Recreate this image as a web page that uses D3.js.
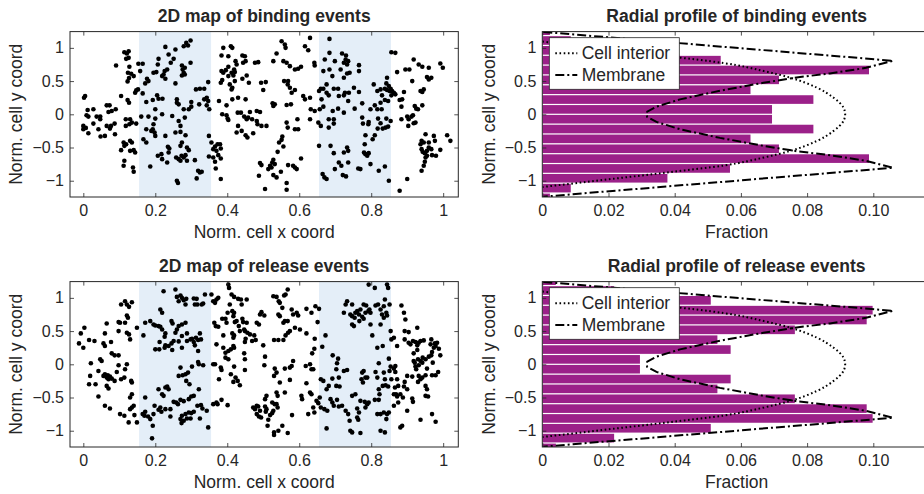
<!DOCTYPE html>
<html>
<head>
<meta charset="utf-8">
<script src="https://cdn.jsdelivr.net/npm/d3@7"></script>
<style>
  body { margin: 0; background: #fff; }
  svg text { font-family: "Liberation Sans", Arial, sans-serif; fill: #262626; }
</style>
</head>
<body>
<script>
// ---- data ----
var xTicks = [0, 0.2, 0.4, 0.6, 0.8, 1];
var yTicks = [-1, -0.5, 0, 0.5, 1];
var fracTicks = [0, 0.02, 0.04, 0.06, 0.08, 0.10];
var membraneBands = [[0.155, 0.355], [0.655, 0.855]];

var bindingEvents = [
[0.002,0.25],[0.005,0.275],[0.012,0.065],[0.028,0.075],[0.009,-0.015],[0.014,-0.035],[0.000,-0.175],[0.007,-0.205],[0.000,-0.225],[0.014,-0.285],[0.028,-0.14],[0.042,-0.225],[0.048,-0.335],[0.060,-0.325],[0.037,-0.035],[0.047,-0.035],[0.047,-0.075],[0.065,0.135],[0.073,0.135],[0.079,0.05],[0.090,0.075],[0.070,0.035],[0.065,-0.175],[0.077,-0.175],[0.074,-0.215],[0.087,-0.14],[0.088,-0.30],[0.105,0.275],[0.091,0.735],[0.114,0.935],[0.126,0.95],[0.121,0.915],[0.119,0.835],[0.126,0.85],[0.128,0.715],[0.124,0.625],[0.133,0.61],[0.123,0.495],[0.127,0.545],[0.140,0.575],[0.123,0.215],[0.127,0.175],[0.118,-0.075],[0.130,-0.075],[0.118,-0.175],[0.128,-0.15],[0.135,-0.125],[0.147,-0.14],[0.112,-0.425],[0.119,-0.45],[0.114,-0.475],[0.130,-0.40],[0.135,-0.425],[0.105,-0.54],[0.130,-0.55],[0.140,-0.54],[0.144,-0.575],[0.114,-0.70],[0.112,-0.775],[0.138,-0.80],[0.140,-0.865],[0.144,0.325],[0.147,0.36],[0.152,0.375],[0.153,0.76],[0.165,0.76],[0.158,0.65],[0.177,0.535],[0.181,0.50],[0.172,0.465],[0.165,0.315],[0.175,0.185],[0.161,-0.035],[0.181,-0.035],[0.175,-0.225],[0.189,-0.25],[0.193,-0.225],[0.198,-0.275],[0.200,-0.325],[0.167,-0.375],[0.175,-0.425],[0.186,-0.785],[0.195,-0.15],[0.200,-0.065],[0.193,0.215],[0.205,0.285],[0.209,0.235],[0.200,0.075],[0.195,0.625],[0.203,0.635],[0.207,0.75],[0.209,0.835],[0.219,0.575],[0.223,0.60],[0.228,0.535],[0.226,0.65],[0.233,0.675],[0.228,1.015],[0.237,0.90],[0.243,0.775],[0.220,0.235],[0.219,0.0],[0.207,-0.625],[0.219,-0.675],[0.217,-0.60],[0.233,-0.725],[0.237,-0.575],[0.228,-0.325],[0.235,-0.49],[0.239,-0.515],[0.251,0.835],[0.256,0.975],[0.256,0.465],[0.256,-0.275],[0.270,-0.265],[0.260,0.225],[0.260,0.175],[0.265,0.15],[0.247,-0.025],[0.258,-0.65],[0.265,-0.675],[0.270,-0.70],[0.273,-0.625],[0.279,-0.65],[0.260,-1.0],[0.263,-1.035],[0.265,-0.10],[0.270,-0.175],[0.270,-0.475],[0.274,-0.425],[0.274,0.735],[0.276,0.675],[0.282,0.70],[0.279,0.625],[0.274,0.585],[0.282,0.60],[0.279,1.025],[0.286,1.075],[0.291,1.035],[0.298,1.11],[0.298,0.775],[0.279,0.075],[0.293,0.075],[0.300,0.115],[0.282,-0.05],[0.284,-0.315],[0.288,-0.50],[0.293,-0.54],[0.284,-0.615],[0.288,-0.70],[0.300,0.185],[0.310,-0.69],[0.313,0.375],[0.319,-0.85],
[0.324,0.385],[0.336,0.385],[0.347,0.485],[0.322,0.15],[0.336,0.225],[0.343,0.25],[0.347,0.20],[0.343,0.135],[0.350,0.075],[0.324,-0.875],[0.329,-0.865],[0.315,-0.965],[0.349,-0.325],[0.356,-0.425],[0.366,-0.485],[0.373,-0.45],[0.380,-0.45],[0.382,-0.515],[0.370,-0.55],[0.375,-0.615],[0.361,-0.525],[0.349,-0.635],[0.361,-0.65],[0.366,-0.715],[0.382,-0.665],[0.382,-0.975],[0.368,-0.815],[0.389,1.0],[0.384,0.885],[0.403,0.875],[0.410,1.025],[0.414,1.0],[0.403,0.715],[0.384,0.65],[0.389,0.625],[0.396,0.665],[0.403,0.575],[0.412,0.625],[0.417,0.585],[0.421,0.635],[0.423,0.80],[0.426,0.75],[0.419,0.675],[0.382,0.475],[0.386,0.515],[0.407,0.45],[0.414,0.40],[0.412,0.375],[0.377,0.20],[0.398,0.135],[0.414,0.225],[0.430,0.25],[0.451,0.225],[0.421,0.50],[0.442,0.535],[0.454,0.585],[0.460,0.475],[0.442,0.885],[0.449,0.875],[0.444,0.775],[0.451,0.80],[0.386,0.0],[0.398,-0.015],[0.401,-0.065],[0.403,-0.085],[0.429,0.025],[0.438,0.025],[0.447,-0.035],[0.454,-0.075],[0.458,-0.05],[0.430,-0.175],[0.426,-0.275],[0.440,-0.25],[0.451,-0.315],[0.456,-0.35],[0.472,-0.285],[0.463,0.035],[0.469,-0.075],[0.482,-0.10],[0.484,-0.15],[0.495,-0.175],[0.509,-0.175],[0.482,0.05],[0.491,0.035],[0.477,0.775],[0.486,0.785],[0.494,0.475],[0.507,0.485],[0.500,0.365],[0.528,0.80],[0.537,0.915],[0.551,1.10],[0.560,1.05],[0.562,1.0],[0.526,0.165],[0.528,0.125],[0.532,0.15],[0.556,0.80],[0.565,0.775],[0.574,0.725],[0.588,0.675],[0.597,0.685],[0.605,0.715],[0.558,0.50],[0.569,0.50],[0.568,0.45],[0.574,0.40],[0.579,0.325],[0.588,0.365],[0.565,0.14],[0.577,0.15],[0.611,0.275],[0.616,0.225],[0.630,0.25],[0.616,1.025],[0.625,0.965],[0.630,1.15],[0.642,0.775],[0.643,0.735],[0.632,0.075],[0.643,0.05],[0.630,-0.075],[0.565,-0.125],[0.568,-0.20],[0.588,-0.225],[0.597,-0.225],[0.595,-0.075],[0.553,-0.335],[0.551,-0.385],[0.544,-0.425],[0.556,-0.485],[0.540,-0.565],[0.491,-0.735],[0.495,-0.765],[0.488,-0.925],[0.514,-0.825],[0.519,-0.775],[0.525,-0.725],[0.528,-0.685],[0.532,-0.75],[0.523,-0.80],[0.528,-0.915],[0.537,-0.95],[0.549,-0.865],[0.569,-0.765],[0.583,-0.775],[0.588,-0.80],[0.593,-0.825],[0.605,-0.665],[0.505,-1.125],[0.565,-1.035],[0.565,-1.135],[0.655,-0.475],[0.655,0.35],[0.660,0.385],[0.667,0.385],[0.671,0.825],[0.667,0.65],[0.662,0.225],[0.657,0.075],[0.667,0.115],[0.660,-0.175],[0.653,-0.125],[0.665,-0.90],[0.670,-0.95],[0.676,-0.975],[0.676,0.325],[0.676,0.45],
[0.684,1.135],[0.684,0.925],[0.699,0.80],[0.684,0.675],[0.692,0.575],[0.696,0.385],[0.682,0.285],[0.693,0.05],[0.708,0.085],[0.682,-0.075],[0.696,-0.075],[0.682,-0.20],[0.696,-0.14],[0.687,-0.475],[0.696,-0.585],[0.719,0.915],[0.730,0.885],[0.729,0.825],[0.724,0.775],[0.733,0.75],[0.736,0.80],[0.715,0.675],[0.766,0.74],[0.766,0.65],[0.724,0.55],[0.733,0.615],[0.740,0.625],[0.708,0.385],[0.710,0.275],[0.724,0.285],[0.727,0.325],[0.738,0.325],[0.752,0.40],[0.766,0.335],[0.736,0.20],[0.754,0.085],[0.775,0.165],[0.724,0.025],[0.733,-0.50],[0.736,-0.55],[0.724,-0.575],[0.710,-0.725],[0.717,-0.775],[0.736,-0.725],[0.699,-0.825],[0.721,-0.915],[0.730,-0.935],[0.764,-0.815],[0.770,-0.825],[0.780,-0.575],[0.784,-0.60],[0.789,-0.625],[0.793,-0.585],[0.782,-0.45],[0.784,-0.315],[0.810,-0.315],[0.804,-0.375],[0.775,-0.05],[0.777,-0.14],[0.792,-0.15],[0.793,-0.115],[0.798,0.075],[0.810,0.135],[0.819,-0.065],[0.826,-0.135],[0.818,-0.215],[0.832,-0.215],[0.840,-0.20],[0.847,-0.185],[0.842,-0.065],[0.817,0.075],[0.829,0.075],[0.826,0.175],[0.838,0.215],[0.847,0.20],[0.798,-0.75],[0.821,-0.85],[0.838,-0.785],[0.807,0.45],[0.817,0.35],[0.826,0.375],[0.830,0.285],[0.844,0.55],[0.842,0.465],[0.849,0.425],[0.838,0.385],[0.844,0.365],[0.851,0.35],[0.858,0.35],[0.854,0.385],[0.863,0.325],[0.867,0.30],[0.856,0.285],[0.854,-0.10],[0.856,0.935],[0.867,0.925],[0.849,-1.0],[0.872,0.635],[0.879,0.215],[0.886,0.225],[0.891,0.335],[0.895,0.675],[0.906,0.675],[0.884,0.115],[0.884,-0.075],[0.900,-0.035],[0.904,-0.075],[0.912,-0.035],[0.916,-0.015],[0.903,-0.175],[0.918,-0.135],[0.923,-0.125],[0.925,0.085],[0.921,0.125],[0.930,0.075],[0.914,0.50],[0.918,0.825],[0.932,0.75],[0.942,0.715],[0.955,0.56],[0.960,0.525],[0.967,0.55],[0.960,0.70],[0.937,0.35],[0.942,0.335],[0.946,0.375],[0.942,0.135],[0.879,-1.15],[0.900,-0.975],[0.940,-0.40],[0.937,-0.45],[0.946,-0.425],[0.951,-0.30],[0.940,-0.525],[0.943,-0.565],[0.949,-0.585],[0.955,-0.55],[0.960,-0.425],[0.960,-0.50],[0.951,-0.65],[0.949,-0.715],[0.946,-0.775],[0.940,-0.85],[0.955,-0.625],[0.969,-0.615],[0.974,-0.325],[0.977,-0.40],[0.967,-0.525],[0.980,-0.625],[0.992,-0.535],[1.011,-0.315],[1.020,-0.40],[0.992,0.765],[0.999,0.70]
];

var releaseEvents = [
[-0.007,0.465],[-0.012,0.315],[0.000,0.25],[0.003,0.55],[0.016,0.365],[0.031,0.35],[0.021,0.015],[0.019,-0.175],[0.016,-0.30],[0.034,-0.30],[0.042,-0.10],[0.042,-0.485],[0.047,0.075],[0.051,0.05],[0.056,-0.175],[0.060,-0.15],[0.065,-0.20],[0.068,-0.165],[0.074,-0.185],[0.079,-0.215],[0.070,-0.225],[0.087,-0.25],[0.065,-0.325],[0.070,-0.365],[0.060,-0.625],[0.074,-0.665],[0.060,0.465],[0.065,0.615],[0.056,0.315],[0.060,0.275],[0.077,0.335],[0.079,0.165],[0.087,0.135],[0.098,0.135],[0.098,0.635],[0.102,0.625],[0.098,0.50],[0.093,-0.115],[0.098,-0.015],[0.105,-0.225],[0.114,-0.20],[0.116,-0.075],[0.121,0.0],[0.133,-0.25],[0.135,-0.275],[0.135,-0.45],[0.130,-0.50],[0.102,-0.75],[0.114,-0.775],[0.126,-0.875],[0.130,-0.675],[0.135,-0.65],[0.140,-0.625],[0.142,-0.765],[0.149,-0.875],[0.105,0.90],[0.116,0.95],[0.121,0.90],[0.127,0.865],[0.135,0.935],[0.121,0.735],[0.124,0.70],[0.116,0.625],[0.121,0.475],[0.127,0.45],[0.130,0.375],[0.149,0.55],[0.167,0.435],[0.172,0.625],[0.186,0.65],[0.195,0.60],[0.200,0.585],[0.209,0.575],[0.214,0.565],[0.219,0.525],[0.228,0.465],[0.226,0.415],[0.214,0.825],[0.219,0.775],[0.223,1.10],[0.200,0.225],[0.211,0.225],[0.212,0.335],[0.226,0.25],[0.228,0.285],[0.237,0.275],[0.247,0.215],[0.245,0.315],[0.251,0.35],[0.265,0.345],[0.245,0.65],[0.248,0.615],[0.256,0.475],[0.260,0.525],[0.265,0.575],[0.274,0.60],[0.284,0.625],[0.288,0.465],[0.274,0.425],[0.256,1.125],[0.260,1.015],[0.270,1.035],[0.274,1.0],[0.279,0.965],[0.284,0.90],[0.265,0.95],[0.286,0.985],[0.307,0.99],[0.310,0.90],[0.274,0.25],[0.288,0.35],[0.298,0.375],[0.302,0.385],[0.307,0.335],[0.313,0.40],[0.319,0.20],[0.310,0.285],[0.172,-0.50],[0.170,-0.775],[0.165,-0.75],[0.172,-0.715],[0.180,-0.785],[0.195,-0.75],[0.198,-0.625],[0.193,-0.925],[0.191,-1.115],[0.186,-0.825],[0.209,-0.375],[0.219,-0.45],[0.223,-0.475],[0.228,-0.35],[0.233,-0.335],[0.237,-0.375],[0.242,-0.675],[0.228,-0.675],[0.214,-0.65],[0.209,-0.685],[0.217,-0.715],[0.251,-0.565],[0.258,-0.575],[0.263,-0.60],[0.242,-0.785],[0.270,-0.825],[0.274,-0.775],[0.279,-0.85],[0.273,-0.885],[0.284,-0.75],[0.293,-0.725],[0.300,-0.735],[0.288,-0.815],[0.298,-0.815],[0.307,-0.715],[0.270,-0.535],[0.279,-0.555],[0.293,-0.525],[0.300,-0.485],[0.307,-0.475],[0.265,-0.175],[0.270,-0.05],[0.276,-0.165],[0.284,-0.15],[0.291,-0.125],[0.302,-0.035],[0.286,-0.25],[0.295,-0.30],[0.319,0.035],[0.321,-0.375],
[0.329,0.90],[0.333,0.915],[0.338,1.05],[0.315,0.985],[0.317,0.90],[0.324,0.465],[0.319,0.365],[0.327,0.375],[0.321,0.0],[0.333,-0.015],[0.317,-0.625],[0.327,-0.615],[0.331,-0.665],[0.343,-0.70],[0.324,-0.815],[0.347,-0.95],[0.356,1.05],[0.361,0.95],[0.366,0.925],[0.370,0.975],[0.375,1.0],[0.364,0.625],[0.368,0.575],[0.375,0.565],[0.386,0.685],[0.395,0.685],[0.398,0.625],[0.389,0.435],[0.401,0.775],[0.414,0.80],[0.417,0.725],[0.419,0.775],[0.407,0.90],[0.403,1.20],[0.405,1.15],[0.412,1.05],[0.419,1.015],[0.430,0.985],[0.438,0.975],[0.440,0.90],[0.454,0.975],[0.426,0.65],[0.432,0.575],[0.435,0.50],[0.442,0.685],[0.447,0.525],[0.449,0.50],[0.456,0.475],[0.454,0.625],[0.444,0.635],[0.449,0.335],[0.451,0.385],[0.463,0.45],[0.414,0.465],[0.419,0.435],[0.417,0.40],[0.421,0.635],[0.370,0.30],[0.389,0.25],[0.395,0.175],[0.403,0.20],[0.410,0.225],[0.417,0.275],[0.419,0.25],[0.395,0.10],[0.403,0.075],[0.361,0.0],[0.366,0.0],[0.382,-0.05],[0.384,-0.085],[0.419,-0.035],[0.447,0.165],[0.449,0.075],[0.449,-0.085],[0.377,-0.225],[0.410,-0.15],[0.417,-0.265],[0.429,-0.25],[0.435,-0.315],[0.423,-0.20],[0.469,0.35],[0.479,0.365],[0.482,0.625],[0.488,0.60],[0.475,0.435],[0.491,0.75],[0.495,0.785],[0.503,0.735],[0.500,0.285],[0.505,0.115],[0.503,-0.015],[0.361,-0.60],[0.370,-0.575],[0.373,-0.60],[0.384,-0.535],[0.401,-0.615],[0.472,-0.65],[0.477,-0.675],[0.482,-0.625],[0.486,-0.635],[0.491,-0.70],[0.482,-0.75],[0.488,-0.785],[0.494,-0.80],[0.505,-0.525],[0.505,-0.635],[0.507,-0.715],[0.509,-0.675],[0.514,-0.835],[0.519,-0.765],[0.512,-0.925],[0.528,-0.70],[0.532,-0.60],[0.537,-0.60],[0.540,-0.65],[0.525,-0.735],[0.530,-1.025],[0.530,-1.065],[0.542,-1.0],[0.553,-0.925],[0.568,-1.035],[0.509,-0.475],[0.525,-0.575],[0.540,-0.475],[0.537,-0.425],[0.560,-0.425],[0.580,-0.765],[0.528,1.025],[0.537,1.015],[0.543,0.95],[0.546,0.925],[0.558,1.035],[0.568,1.125],[0.562,1.05],[0.553,0.85],[0.542,0.75],[0.546,0.725],[0.560,0.65],[0.568,0.65],[0.556,0.625],[0.579,0.825],[0.583,0.75],[0.593,0.775],[0.597,0.735],[0.588,0.55],[0.602,0.525],[0.569,0.475],[0.574,0.50],[0.620,0.835],[0.634,0.775],[0.530,0.365],[0.542,0.365],[0.556,0.365],[0.562,0.435],[0.532,-0.065],[0.537,-0.125],[0.530,-0.175],[0.560,-0.065],[0.574,-0.05],[0.579,-0.025],[0.583,0.05],[0.546,-0.275],[0.574,-0.235],[0.606,-0.475],[0.608,-0.525],[0.618,-0.025],[0.620,-0.285],[0.630,0.0],[0.634,-0.075],[0.639,-0.075],[0.636,0.165],[0.642,0.235],[0.643,0.385],[0.620,0.465],[0.630,-0.425],[0.634,-0.45],[0.639,-0.65],[0.642,-0.725],[0.625,-0.75],[0.648,-0.55],[0.653,-0.585],[0.660,-0.65],[0.670,-0.675],[0.657,-0.50],[0.660,-0.225],[0.667,-0.25],[0.645,0.875],[0.655,0.835],[0.651,0.635],[0.673,0.435],[0.664,0.265],[0.676,-0.375],[0.676,-0.965],
[0.693,0.135],[0.708,0.085],[0.705,0.015],[0.703,-0.075],[0.692,-0.215],[0.710,-0.20],[0.682,-0.325],[0.703,-0.325],[0.712,-0.335],[0.687,-0.525],[0.692,-0.575],[0.696,-0.625],[0.705,-0.535],[0.710,-0.635],[0.719,-0.625],[0.678,-0.70],[0.724,-0.10],[0.733,-0.085],[0.729,-0.70],[0.736,-0.75],[0.740,-0.85],[0.747,-0.475],[0.756,-0.45],[0.761,-0.665],[0.766,-0.725],[0.761,-0.80],[0.764,-0.835],[0.770,-0.55],[0.773,-0.225],[0.777,-0.275],[0.775,-0.125],[0.779,-0.10],[0.784,-0.20],[0.789,-0.20],[0.782,-0.565],[0.789,-0.60],[0.784,-0.65],[0.793,-0.575],[0.742,-1.0],[0.747,-1.025],[0.770,-1.035],[0.729,0.90],[0.724,0.775],[0.733,0.95],[0.747,0.90],[0.742,0.75],[0.747,0.725],[0.756,0.775],[0.754,0.70],[0.761,0.80],[0.766,0.75],[0.767,0.65],[0.775,0.715],[0.770,0.825],[0.779,0.90],[0.786,0.885],[0.784,0.775],[0.792,0.80],[0.795,0.825],[0.798,0.775],[0.779,0.685],[0.747,0.60],[0.752,0.575],[0.798,0.60],[0.793,1.20],[0.810,1.15],[0.844,1.20],[0.847,1.15],[0.812,0.885],[0.819,0.90],[0.826,0.825],[0.830,0.75],[0.838,0.975],[0.835,0.875],[0.842,0.775],[0.851,0.90],[0.844,0.735],[0.835,0.70],[0.826,0.60],[0.803,0.435],[0.817,0.25],[0.832,0.275],[0.821,0.015],[0.812,-0.115],[0.817,-0.20],[0.835,-0.125],[0.838,-0.225],[0.840,-0.315],[0.847,-0.335],[0.832,-0.325],[0.821,-0.375],[0.823,-0.45],[0.810,-0.535],[0.821,-0.535],[0.817,-0.75],[0.826,-0.75],[0.835,-0.725],[0.844,-0.75],[0.842,-0.825],[0.838,-1.025],[0.826,-1.0],[0.849,-0.725],[0.849,0.085],[0.854,-0.035],[0.851,-0.10],[0.856,-0.225],[0.863,-0.065],[0.867,-0.025],[0.867,-0.115],[0.872,-0.225],[0.875,-0.325],[0.866,-0.35],[0.863,-0.45],[0.869,-0.45],[0.863,-0.625],[0.875,-0.575],[0.872,-0.485],[0.881,-0.45],[0.888,-0.50],[0.891,-0.335],[0.893,-0.265],[0.900,-0.375],[0.900,-0.175],[0.914,-0.515],[0.916,-0.565],[0.900,-0.70],[0.881,-0.95],[0.886,-0.925],[0.937,-0.835],[0.969,-0.75],[0.979,-0.865],[0.854,0.50],[0.856,0.375],[0.863,0.40],[0.872,0.275],[0.884,0.885],[0.891,0.775],[0.895,0.675],[0.893,0.50],[0.904,0.485],[0.893,0.375],[0.928,0.55],[0.904,0.325],[0.909,0.30],[0.916,0.35],[0.923,0.335],[0.928,0.285],[0.932,0.325],[0.937,0.35],[0.946,0.36],[0.928,0.215],[0.918,0.165],[0.918,0.05],[0.921,0.025],[0.923,-0.035],[0.925,-0.075],[0.930,0.075],[0.937,0.05],[0.942,0.025],[0.943,0.10],[0.932,-0.015],[0.942,-0.20],[0.937,-0.225],[0.932,-0.175],[0.930,-0.265],[0.951,-0.165],[0.955,-0.065],[0.951,-0.325],[0.955,-0.375],[0.951,-0.475],[0.958,-0.485],[0.951,0.075],[0.960,0.115],[0.967,0.135],[0.971,0.025],[0.969,-0.165],[0.979,-0.165],[0.986,-0.115],[0.967,0.375],[0.965,0.30],[0.969,0.185],[0.974,0.25],[0.979,0.275],[0.983,0.325],[0.988,0.235],[0.992,0.135],[0.977,0.315],[0.914,-0.185]
];

// histogram bins (centre of each bin, top to bottom) and fractions
var binCenters = [1.259, 1.111, 0.963, 0.815, 0.667, 0.519, 0.370, 0.222, 0.074,
                  -0.074, -0.222, -0.370, -0.519, -0.667, -0.815, -0.963, -1.111, -1.259];
var binWidth = 0.148;
var bindingFraction = [0.0023, 0.0086, 0.0378, 0.0539, 0.0987, 0.0715, 0.0629, 0.0819, 0.0694,
                       0.0694, 0.0819, 0.0629, 0.0715, 0.0987, 0.0567, 0.0378, 0.0086, 0.0023];
var releaseFraction = [0.0041, 0.0217, 0.0509, 0.0998, 0.0980, 0.0763, 0.0529, 0.0569, 0.0295,
                       0.0295, 0.0569, 0.0529, 0.0763, 0.0980, 0.0998, 0.0509, 0.0217, 0.0041];

// theoretical profiles [fraction, y]
var interiorProfile = [[0,1.095],[0.025,0.95],[0.0378,0.875],[0.055,0.77],[0.067,0.65],[0.075,0.55],
  [0.083,0.40],[0.088,0.25],[0.091,0.10],[0.0915,0],[0.091,-0.10],[0.088,-0.25],[0.083,-0.40],
  [0.075,-0.55],[0.067,-0.65],[0.055,-0.77],[0.0378,-0.875],[0.025,-0.95],[0,-1.095]];
var membraneProfile = [[0.0003,1.24],[0.106,0.805],[0.0978,0.70],[0.0869,0.615],[0.0768,0.555],
  [0.0668,0.475],[0.0537,0.355],[0.0416,0.225],[0.0345,0.115],[0.0317,0.04],[0.0315,0],
  [0.0317,-0.04],[0.0345,-0.115],[0.0416,-0.225],[0.0537,-0.355],[0.0668,-0.475],[0.0768,-0.555],
  [0.0869,-0.615],[0.0978,-0.70],[0.106,-0.805],[0.0003,-1.24]];

// ---- drawing ----
var W = 924, H = 494;
var axisColor = '#262626';
var barColor = '#9b2189';
var bandColor = '#e4eef8';

var svg = d3.select('body').append('svg').attr('width', W).attr('height', H);

var defs = svg.append('defs');

function yScaleFor(off) {
  return d3.scaleLinear().domain([-1.245, 1.245]).range([197 + off, 31.6 + off]);
}

function styleAxis(g) {
  g.select('.domain').remove();
  g.selectAll('.tick line').attr('stroke', axisColor).attr('stroke-width', 0.8);
  g.selectAll('.tick text').style('font-size', '16px').attr('fill', axisColor);
}

function drawFrame(x0, x1, y, xs, title, xlab, labX) {
  var top = y.range()[1], bot = y.range()[0];
  svg.append('text').attr('x', (x0 + x1) / 2).attr('y', top - 10)
    .attr('text-anchor', 'middle').style('font-size', '17.5px').style('font-weight', 'bold')
    .text(title);
  svg.append('text').attr('x', (x0 + Math.min(x1, 931)) / 2).attr('y', bot + 41)
    .attr('text-anchor', 'middle').style('font-size', '17.5px').text(xlab);
  svg.append('text').attr('transform', 'translate(' + labX + ',' + y(0) + ') rotate(-90)')
    .attr('text-anchor', 'middle').style('font-size', '17.5px').text('Norm. cell y coord');
}

function drawAxes(xs, y, xt, fmt, x0, x1) {
  var top = y.range()[1], bot = y.range()[0];
  svg.append('g').attr('transform', 'translate(0,' + bot + ')')
    .call(d3.axisBottom(xs).tickValues(xt).tickSize(-4).tickPadding(8).tickFormat(fmt))
    .call(styleAxis);
  svg.append('g').attr('transform', 'translate(0,' + top + ')')
    .call(d3.axisTop(xs).tickValues(xt).tickSize(-4).tickFormat(''))
    .call(styleAxis);
  svg.append('g').attr('transform', 'translate(' + x0 + ',0)')
    .call(d3.axisLeft(y).tickValues(yTicks).tickSize(-4).tickPadding(6).tickFormat(d3.format('')))
    .call(styleAxis);
  svg.append('g').attr('transform', 'translate(' + x1 + ',0)')
    .call(d3.axisRight(y).tickValues(yTicks).tickSize(-4).tickFormat(''))
    .call(styleAxis);
  svg.append('rect').attr('x', x0).attr('y', top).attr('width', x1 - x0).attr('height', bot - top)
    .attr('fill', 'none').attr('stroke', axisColor).attr('stroke-width', 1);
}

function drawMap(off, title, pts) {
  var x0 = 70, x1 = 458.3;
  var x = d3.scaleLinear().domain([-0.037, 1.042]).range([x0, x1]);
  var y = yScaleFor(off);
  var top = y.range()[1], bot = y.range()[0];

  svg.append('g').selectAll('rect').data(membraneBands).enter().append('rect')
    .attr('x', function(d) { return x(d[0]); })
    .attr('width', function(d) { return x(d[1]) - x(d[0]); })
    .attr('y', top).attr('height', bot - top)
    .attr('fill', bandColor);

  svg.append('g').selectAll('circle').data(pts).enter().append('circle')
    .attr('cx', function(d) { return x(d[0]); })
    .attr('cy', function(d) { return y(d[1]); })
    .attr('r', 2.3)
    .attr('fill', '#000');

  drawAxes(x, y, xTicks, d3.format(''), x0, x1);
  drawFrame(x0, x1, y, x, title, 'Norm. cell x coord', 22);
}

function drawProfile(off, title, frac) {
  var x0 = 542.3, x1 = 931;
  var x = d3.scaleLinear().domain([0, 0.1]).range([x0, 873.3]);
  var y = yScaleFor(off);
  var top = y.range()[1], bot = y.range()[0];
  var clipId = 'clip' + off;
  defs.append('clipPath').attr('id', clipId).append('rect')
    .attr('x', x0).attr('y', top).attr('width', x1 - x0).attr('height', bot - top);

  var plot = svg.append('g').attr('clip-path', 'url(#' + clipId + ')');
  var bh = Math.abs(y(0) - y(binWidth));

  plot.selectAll('rect.bar').data(binCenters).enter().append('rect')
    .attr('class', 'bar')
    .attr('x', x(0))
    .attr('y', function(d) { return y(d) - bh / 2 + 0.6; })
    .attr('height', bh - 1.2)
    .attr('width', function(d, i) { return x(frac[i]) - x(0); })
    .attr('fill', barColor);

  var line = d3.line().x(function(d) { return x(d[0]); }).y(function(d) { return y(d[1]); })
    .curve(d3.curveMonotoneY);
  plot.append('path').datum(interiorProfile).attr('d', line)
    .attr('fill', 'none').attr('stroke', '#000').attr('stroke-width', 2)
    .attr('stroke-dasharray', '1.6,2.6');
  var line2 = d3.line().x(function(d) { return x(d[0]); }).y(function(d) { return y(d[1]); });
  plot.append('path').datum(membraneProfile).attr('d', line2.curve(d3.curveLinear))
    .attr('fill', 'none').attr('stroke', '#000').attr('stroke-width', 2)
    .attr('stroke-dasharray', '9,3,2,3');

  drawAxes(x, y, fracTicks, function(d) { return d === 0 ? '0' : d3.format('.2f')(d); }, x0, x1);
  drawFrame(x0, x1, y, x, title, 'Fraction', 495);

  // legend
  var lg = svg.append('g').attr('transform', 'translate(549.3,' + (37.7 + off) + ')');
  lg.append('rect').attr('width', 130).attr('height', 51.6)
    .attr('fill', '#fff').attr('stroke', axisColor).attr('stroke-width', 0.8);
  var items = [['Cell interior', '1.6,2.6'], ['Membrane', '9,3,2,3']];
  items.forEach(function(it, i) {
    var yy = 15.6 + i * 21.7;
    lg.append('line').attr('x1', 6).attr('x2', 28).attr('y1', yy).attr('y2', yy)
      .attr('stroke', '#000').attr('stroke-width', 2).attr('stroke-dasharray', it[1]);
    lg.append('text').attr('x', 32.4).attr('y', yy + 6).style('font-size', '17.5px').text(it[0]);
  });
}

drawMap(0, '2D map of binding events', bindingEvents);
drawMap(250, '2D map of release events', releaseEvents);
drawProfile(0, 'Radial profile of binding events', bindingFraction);
drawProfile(250, 'Radial profile of release events', releaseFraction);
</script>
</body>
</html>
